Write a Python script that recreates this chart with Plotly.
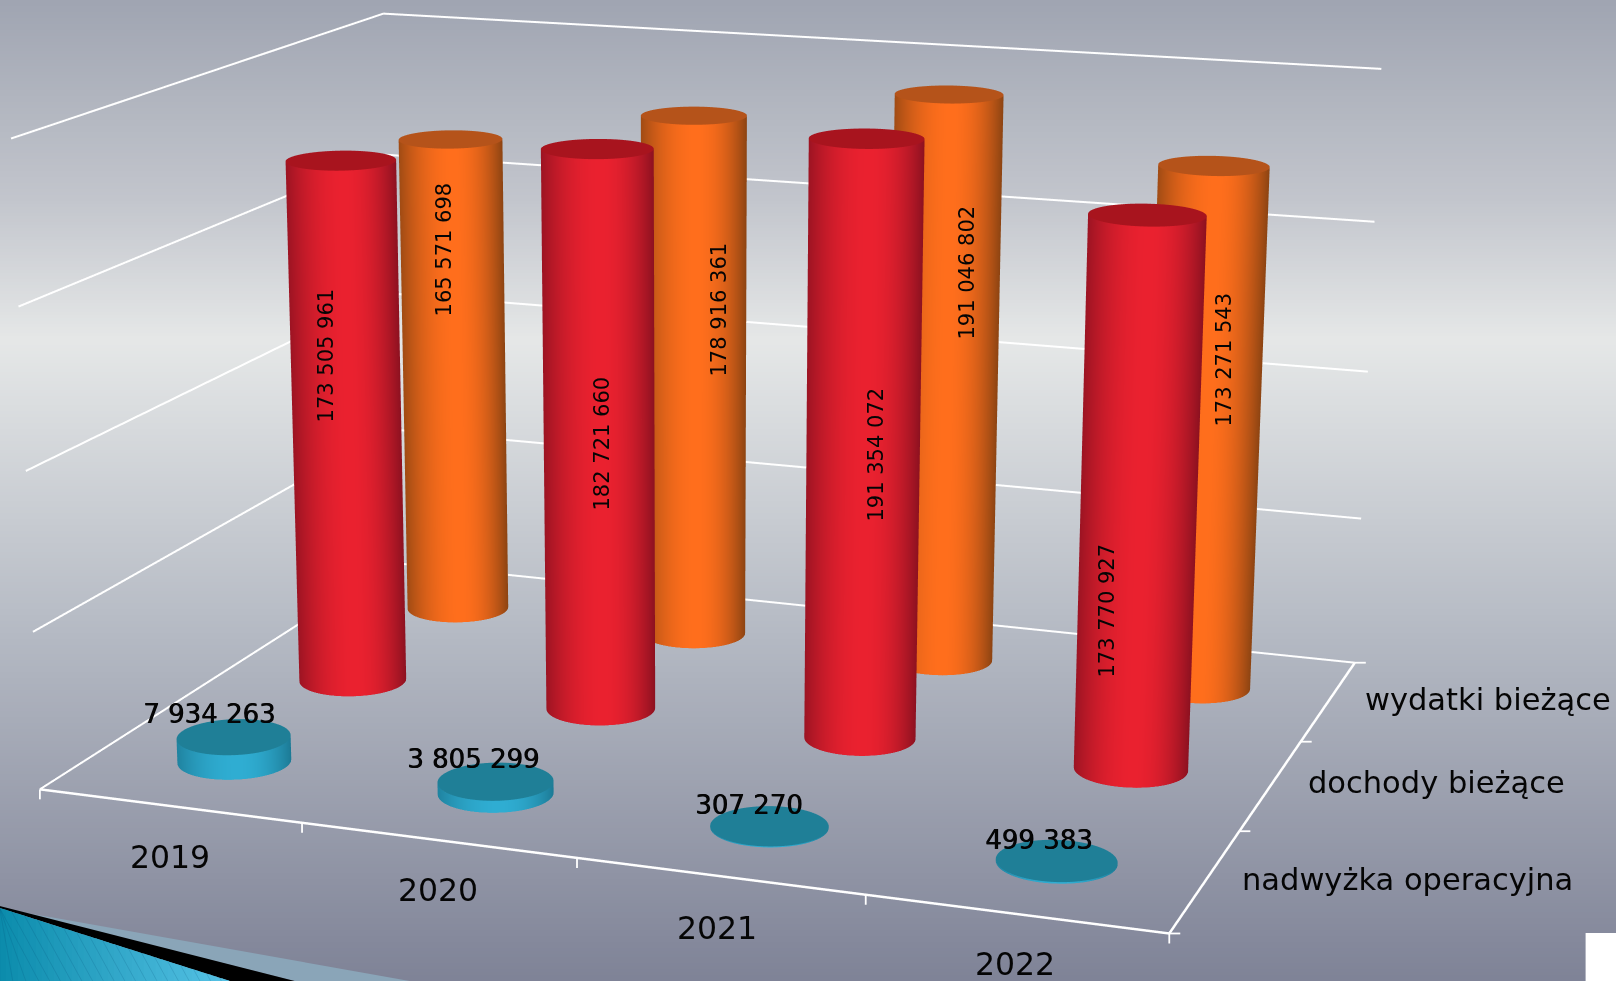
import numpy as np
import plotly.graph_objects as go

# ---- data ----
YEARS = ["2019", "2020", "2021", "2022"]
SERIES = ["nadwyżka operacyjna", "dochody bieżące", "wydatki bieżące"]
NADWYZKA = [7934263, 3805299, 307270, 499383]
DOCHODY = [173505961, 182721660, 191354072, 173770927]
WYDATKI = [165571698, 178916361, 191046802, 173271543]
VALUES = [NADWYZKA, DOCHODY, WYDATKI]
Z_TICKS = [0, 50e6, 100e6, 150e6, 200e6]

# ---- styles ----
SIDE_DARK = ["#1c7a95", "#8c1120", "#8c4412"]
SIDE_BRIGHT = ["#2fadd2", "#ea212f", "#ff6e1c"]
CAP = ["#1f7f97", "#a8141e", "#b5531a"]

# ---- camera: pinhole with plotly's fixed 45 degree fovy, figure sized to give the focal length ----
FOCAL, CX, CY = 4058.2, 706.4, 494.1
EYE = np.array([1.17, -3.3082, 0.8805])
FW = np.array([-0.32729, 0.90808, -0.2613])
UP = np.array([-0.0894, 0.24553, 0.96526])
ASPECT = np.array([1.0, 0.7507, 0.5703])
CENTER = EYE + FW * 3.5
RIGHT = np.cross(FW, UP)
FIG_H = int(round(2 * FOCAL * np.tan(np.pi / 8)))
FIG_W = 1820
LEFT = CX - FIG_W / 2
TOP = CY - FIG_H / 2
XR, YR, ZR = 4.0, 3.0, 200e6


def project(x, y, z):
    p = (np.array([x / XR, y / YR, z / ZR]) - 0.5) * ASPECT - EYE
    d = p @ FW
    return CX + FOCAL * (p @ RIGHT) / d, CY - FOCAL * (p @ UP) / d


def px(x):
    return (x - LEFT) / FIG_W


def py(y):
    return 1 - (y - TOP) / FIG_H


RADIUS = 0.05  # in scene units
theta = np.linspace(0, 2 * np.pi, 181)
PEAK = 0.05  # highlight sits slightly right of the axis
fig = go.Figure()


def add_cylinder(ix, iy, val, k):
    cx, cy = ix + 0.5, iy + 0.5
    rx, ry = RADIUS * XR / ASPECT[0], RADIUS * YR / ASPECT[1]
    wx = (cx / XR - 0.5) * ASPECT[0]
    wy = (cy / YR - 0.5) * ASPECT[1]
    th0 = np.arctan2(EYE[1] - wy, EYE[0] - wx)
    X = np.array([cx + rx * np.cos(theta)] * 2)
    Y = np.array([cy + ry * np.sin(theta)] * 2)
    Z = np.array([np.zeros_like(theta), np.full_like(theta, val)])
    u = np.sin(theta - th0)  # screen-space offset across the cylinder
    right = 1 - ((u - PEAK) / (1 - PEAK)) ** 2
    left = 0.17 + 0.83 * (1 - ((PEAK - u) / (1 + PEAK)) ** 2)
    S = np.array([np.clip(np.where(u > PEAK, right, left), 0, 1)] * 2)
    light = dict(ambient=1, diffuse=0, specular=0, fresnel=0, roughness=1)
    fig.add_trace(go.Surface(x=X, y=Y, z=Z, surfacecolor=S, cmin=0, cmax=1, showscale=False,
                             colorscale=[[0, SIDE_DARK[k]], [1, SIDE_BRIGHT[k]]],
                             lighting=light, hoverinfo="skip"))
    rr = np.array([0.0, 1.0])
    X = cx + rx * np.outer(rr, np.cos(theta))
    Y = cy + ry * np.outer(rr, np.sin(theta))
    Z = np.full_like(X, val)
    fig.add_trace(go.Surface(x=X, y=Y, z=Z, surfacecolor=np.ones_like(X), cmin=0, cmax=1, showscale=False,
                             colorscale=[[0, CAP[k]], [1, CAP[k]]],
                             lighting=light, hoverinfo="skip"))


for k, vals in enumerate(VALUES):
    for i, v in enumerate(vals):
        add_cylinder(i, k, v, k)

# ---- wall gridlines and floor axes as thick 3D lines (occluded by the cylinders) ----
gx, gy, gz = [], [], []
for z in Z_TICKS:
    gx += [0, 0, XR, None]
    gy += [0, YR, YR, None]
    gz += [z, z, z, None]
fig.add_trace(go.Scatter3d(x=gx, y=gy, z=gz, mode="lines", line=dict(color="white", width=4),
                           hoverinfo="skip", showlegend=False))
fig.add_trace(go.Scatter3d(x=[0, XR, XR], y=[0, 0, YR], z=[0, 0, 0], mode="lines",
                           line=dict(color="white", width=5), hoverinfo="skip", showlegend=False))

# ---- text placed relative to its data anchor ----
INK = "#050505"
anns = []


def add_label(text, anchor, target, size, angle=0, shadow=None):
    ax, ay = project(*anchor)
    font = dict(family="DejaVu Sans", size=size, color=INK)
    if shadow:
        font["shadow"] = shadow
    anns.append(dict(x=anchor[0], y=anchor[1], z=anchor[2], text=text, showarrow=False,
                     textangle=angle, font=font, xanchor="center", yanchor="middle",
                     xshift=target[0] - ax, yshift=-(target[1] - ay)))


def fmt(v):
    return f"{v:,}".replace(",", " ")


ROT_TARGET = [None,
              [(326, 356), (602, 444), (876, 455), (1107, 611)],
              [(444, 250), (719, 310), (967, 273), (1224, 360)]]
BLUE_TARGET = [(209, 714), (473, 759), (749, 805), (1039, 840)]
YEAR_TARGET = [(170, 857), (438, 890), (717, 928), (1015, 964)]
CAT_TARGET = [(1408, 880), (1437, 783), (1488, 700)]

for i in range(4):
    add_label(fmt(NADWYZKA[i]), (i + 0.5, 0.5, NADWYZKA[i]), BLUE_TARGET[i], 26, shadow="0.7px 0 0 #000")
    add_label(fmt(DOCHODY[i]), (i + 0.5, 1.5, DOCHODY[i] / 2), ROT_TARGET[1][i], 21, angle=-90)
    add_label(fmt(WYDATKI[i]), (i + 0.5, 2.5, WYDATKI[i] / 2), ROT_TARGET[2][i], 21, angle=-90)
    add_label(YEARS[i], (i + 0.5, 0, 0), YEAR_TARGET[i], 31.5)
for k, s in enumerate(SERIES):
    add_label(s, (XR, k + 0.5, 0), CAT_TARGET[k], 30.5)

# ---- background and decoration as paper shapes ----
shapes = []
STOPS_Y = [0, 200, 340, 640, 981]
STOPS_C = [(160, 165, 178), (195, 198, 205), (230, 232, 232), (180, 185, 195), (127, 131, 151)]


def lerp_color(y, ys, cs):
    return "rgb(%d,%d,%d)" % tuple(np.interp(y, ys, [c[j] for c in cs]) for j in range(3))


def rect(x0, y0, x1, y1, color):
    shapes.append(dict(type="rect", xref="paper", yref="paper", x0=px(x0), x1=px(x1), y0=py(y0), y1=py(y1),
                       fillcolor=color, line=dict(width=0), layer="below"))


def poly(points, color):
    path = "M" + "L".join(f"{px(a):.6f},{py(b):.6f}" for a, b in points) + "Z"
    shapes.append(dict(type="path", xref="paper", yref="paper", path=path, fillcolor=color,
                       line=dict(width=0), layer="below"))


for y in range(0, 981, 3):
    rect(-10, y, 1630, y + 4, lerp_color(y + 1.5, STOPS_Y, STOPS_C))
rect(1586, 933, 1630, 990, "#ffffff")
poly([(10, 910), (410, 981), (295, 981)], "#8aa5b8")
poly([(0, 906), (295, 981), (230, 981), (0, 908)], "#000000")
top_y = lambda x: 908 + (981 - 908) * x / 230
for x in range(0, 230, 6):
    t = (x + 3) / 230
    col = "rgb(%d,%d,%d)" % (12 + 75 * t, 140 + 55 * t, 172 + 58 * t)
    poly([(x, top_y(x)), (x + 7, top_y(x + 7)), (x + 7, 981), (x, 981)], col)
for x in range(-40, 230, 13):
    x1 = x + 0.55 * (981 - top_y(max(x, 0)))
    shapes.append(dict(type="line", xref="paper", yref="paper", x0=px(max(x, 0)), y0=py(top_y(max(x, 0))),
                       x1=px(min(x1, 230)), y1=py(981), line=dict(color="rgba(0,70,110,0.16)", width=1),
                       layer="below"))

# axis ticks: vertical on the front edge, horizontal on the right edge
for i in range(5):
    a, b = project(i, 0, 0)
    shapes.append(dict(type="line", xref="paper", yref="paper", x0=px(a), x1=px(a), y0=py(b), y1=py(b + 10),
                       line=dict(color="white", width=1.8)))
for j in range(4):
    a, b = project(XR, j, 0)
    shapes.append(dict(type="line", xref="paper", yref="paper", x0=px(a), x1=px(a + 11), y0=py(b), y1=py(b),
                       line=dict(color="white", width=1.8)))

axis_common = dict(showbackground=False, showgrid=False, zeroline=False, showspikes=False,
                   showticklabels=False, ticks="", title=dict(text=""), showline=False)
fig.update_layout(
    width=FIG_W, height=FIG_H, autosize=False, showlegend=False,
    margin=dict(l=0, r=0, t=0, b=0, pad=0),
    paper_bgcolor="#a0a5b2", plot_bgcolor="rgba(0,0,0,0)",
    shapes=shapes,
    scene=dict(
        domain=dict(x=[0, 1], y=[0, 1]),
        bgcolor="rgba(0,0,0,0)",
        aspectmode="manual",
        aspectratio=dict(x=float(ASPECT[0]), y=float(ASPECT[1]), z=float(ASPECT[2])),
        camera=dict(eye=dict(x=float(EYE[0]), y=float(EYE[1]), z=float(EYE[2])),
                    center=dict(x=float(CENTER[0]), y=float(CENTER[1]), z=float(CENTER[2])),
                    up=dict(x=float(UP[0]), y=float(UP[1]), z=float(UP[2])),
                    projection=dict(type="perspective")),
        xaxis=dict(axis_common, range=[0, XR]),
        yaxis=dict(axis_common, range=[0, YR]),
        zaxis=dict(axis_common, range=[0, ZR]),
        annotations=anns,
    ),
)

post = (
    "document.documentElement.style.overflow='hidden';"
    "document.body.style.margin='0';document.body.style.overflow='hidden';"
    "var g=document.getElementById('{plot_id}');"
    f"g.style.position='fixed';g.style.left='{LEFT:.1f}px';g.style.top='{TOP:.1f}px';"
)
fig.write_html("out.html", post_script=post, config=dict(displayModeBar=False))
